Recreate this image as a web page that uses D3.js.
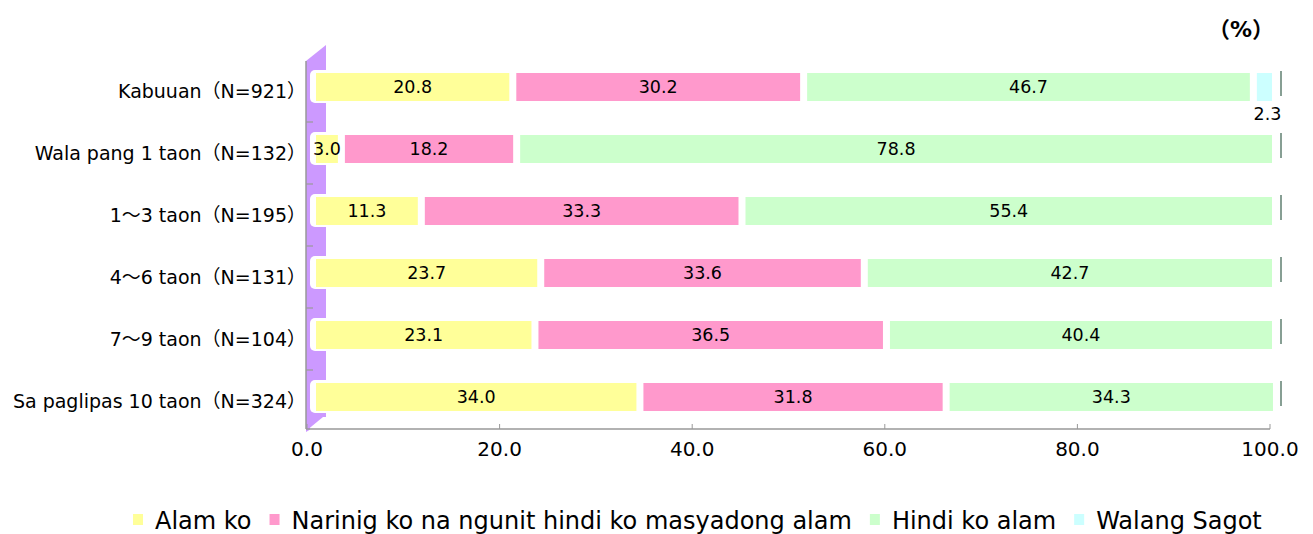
<!DOCTYPE html>
<html>
<head>
<meta charset="utf-8">
<script src="https://cdn.jsdelivr.net/npm/d3@7"></script>
<style>
  body { margin: 0; background: #fff; }
  text { font-family: "DejaVu Sans", "Noto Sans CJK JP", sans-serif; fill: #000; }
</style>
</head>
<body>
<svg id="chart"></svg>
<script>
// chart data
const categories = ["Kabuuan（N=921）", "Wala pang 1 taon（N=132）", "1～3 taon（N=195）",
  "4～6 taon（N=131）", "7～9 taon（N=104）", "Sa paglipas 10 taon（N=324）"];
const seriesNames = ["Alam ko", "Narinig ko na ngunit hindi ko masyadong alam", "Hindi ko alam", "Walang Sagot"];
const alamKo = [20.8, 3.0, 11.3, 23.7, 23.1, 34.0];
const narinig = [30.2, 18.2, 33.3, 33.6, 36.5, 31.8];
const hindiAlam = [46.7, 78.8, 55.4, 42.7, 40.4, 34.3];
const walangSagot = [2.3, 0, 0, 0, 0, 0];
const tickValues = [0, 20, 40, 60, 80, 100];
const colors = ["#ffff99", "#ff99cc", "#ccffcc", "#ccffff"];

const width = 1313, height = 534;
const svg = d3.select('#chart').attr('width', width).attr('height', height);

const x = d3.scaleLinear().domain([0, 100]).range([307, 1270]);
const y = d3.scaleBand().domain(categories).range([56, 428]);
const barH = 28;
const barTop = c => y(c) + 17;

// purple side wall
const wall = svg.append('g');
wall.append('path')
  .attr('d', 'M306,61 L326,45 L326,420 L306,432 Z')
  .attr('fill', '#cc99ff');
categories.forEach(c => {
  wall.append('rect')
    .attr('x', 310).attr('y', barTop(c) - 3)
    .attr('width', 30).attr('height', barH + 5)
    .attr('rx', 5)
    .attr('fill', '#fff');
});
wall.append('rect').attr('x', 310).attr('y', barTop(categories[5]) + barH + 6)
  .attr('width', 20).attr('height', 30).attr('fill', '#fff');
wall.append('path')
  .attr('d', 'M306,417 L323,417 L306,431 Z')
  .attr('fill', '#cc99ff');

// axes
svg.append('line').attr('x1', 306).attr('x2', 306).attr('y1', 61).attr('y2', 429)
  .attr('stroke', '#999').attr('stroke-width', 1.5);
categories.forEach((c, i) => {
  if (i === 0) return;
  svg.append('line').attr('x1', 306).attr('x2', 313).attr('y1', y(c) + 4).attr('y2', y(c) + 4)
    .attr('stroke', '#999').attr('stroke-width', 1.2);
});
svg.append('line').attr('x1', 306).attr('x2', x(100)).attr('y1', 429).attr('y2', 429)
  .attr('stroke', '#999').attr('stroke-width', 1.5);
svg.selectAll('.xtick').data(tickValues).join('line')
  .attr('x1', d => x(d)).attr('x2', d => x(d)).attr('y1', 429).attr('y2', 424)
  .attr('stroke', '#999');
svg.selectAll('.xlab').data(tickValues).join('text')
  .attr('x', d => x(d)).attr('y', 456)
  .attr('text-anchor', 'middle').attr('font-size', 20)
  .text(d => d.toFixed(1));

// category labels
svg.selectAll('.cat').data(categories).join('text')
  .attr('x', 306).attr('y', d => barTop(d) + barH / 2 + 11)
  .attr('text-anchor', 'end').attr('font-size', 19)
  .text(d => d);

// stacked bars
const series = [alamKo, narinig, hindiAlam, walangSagot];
categories.forEach((c, i) => {
  let cum = 0;
  series.forEach((s, k) => {
    const v = s[i];
    const x0 = x(cum), x1 = x(cum + v);
    cum += v;
    if (v <= 0) return;
    const bx = x0 + 9, bw = x1 - x0 - 7;
    svg.append('rect')
      .attr('x', bx).attr('y', barTop(c))
      .attr('width', bw).attr('height', barH)
      .attr('fill', colors[k]);
    const small = v < 2.5;
    svg.append('text')
      .attr('x', bx + bw / 2 + (small ? 3 : 0))
      .attr('y', small ? barTop(c) + barH + 19 : barTop(c) + barH / 2 + 6)
      .attr('text-anchor', 'middle').attr('font-size', 17.5)
      .text(v.toFixed(1));
  });
  // right edge line
  svg.append('line')
    .attr('x1', x(100) + 11).attr('x2', x(100) + 11)
    .attr('y1', barTop(c) - 2).attr('y2', barTop(c) + barH - 5)
    .attr('stroke', '#5f7f70').attr('stroke-width', 1.5);
});

// unit
svg.append('text').attr('x', 1241).attr('y', 37)
  .attr('text-anchor', 'middle').attr('font-size', 22).attr('font-weight', 'bold').text('（%）');

// legend
const legend = svg.append('g');
let lx = 133;
seriesNames.forEach((name, k) => {
  legend.append('rect').attr('x', lx).attr('y', 514).attr('width', 10).attr('height', 11)
    .attr('fill', colors[k]);
  const t = legend.append('text').attr('x', lx + 22).attr('y', 529)
    .attr('font-size', 24).text(name);
  lx += 22 + t.node().getComputedTextLength() + 18;
});
</script>
</body>
</html>
